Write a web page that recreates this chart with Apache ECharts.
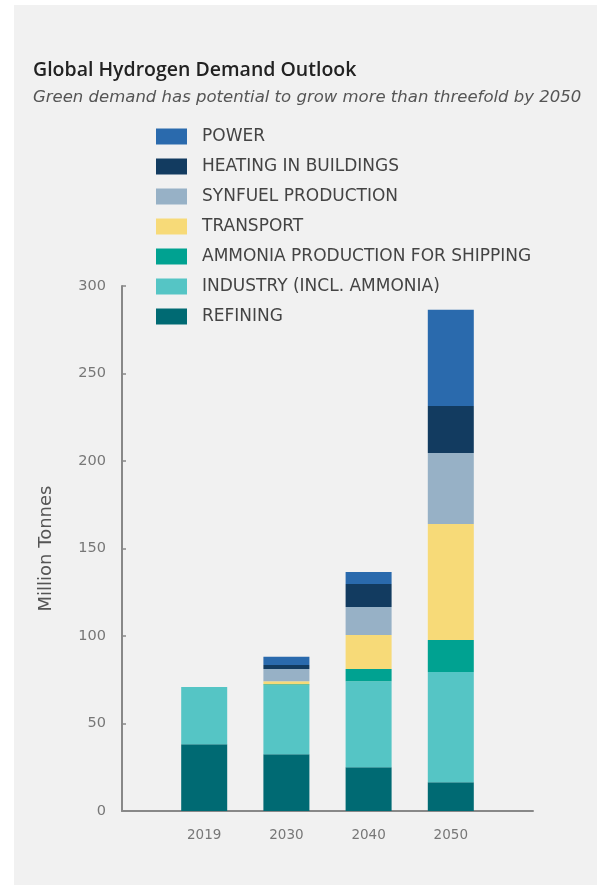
<!DOCTYPE html>
<html>
<head>
<meta charset="utf-8">
<script src="https://cdn.jsdelivr.net/npm/echarts@6/dist/echarts.min.js"></script>
<style>
  html,body{margin:0;padding:0;background:#fff;}
  #main{width:601px;height:890px;}
</style>
</head>
<body>
<div id="main"></div>
<script>
// categories (blank ends leave the gaps either side of the bars)
let years=["","2019","2030","2040","2050",""]
// million tonnes
let refining=[null,38.2,32.4,25.0,16.4,null]
let industry=[null,32.6,39.5,49.2,63.0,null]
let ammoniaShipping=[null,0,0.6,6.9,18.3,null]
let transport=[null,0,1.7,19.5,66.3,null]
let synfuel=[null,0,6.9,16.0,40.6,null]
let heating=[null,0,2.3,13.1,26.9,null]
let power=[null,0,4.7,6.9,54.9,null]

let names=["REFINING","INDUSTRY (INCL. AMMONIA)","AMMONIA PRODUCTION FOR SHIPPING","TRANSPORT","SYNFUEL PRODUCTION","HEATING IN BUILDINGS","POWER"]
let values=[refining,industry,ammoniaShipping,transport,synfuel,heating,power]
let colors=["#006a73","#55c5c5","#00a291","#f7da78","#97b1c6","#123b60","#2a6aad"]

let chart=echarts.init(document.getElementById("main"))
let series=[]
for(let i=0;i<names.length;i++){
    series.push({
        name:names[i],
        type:"bar",
        stack:"total",
        barWidth:46,
        itemStyle:{color:colors[i]},
        data:values[i]
    })
}
chart.setOption({
    backgroundColor:"#fff",
    graphic:[{
        type:"rect",
        shape:{x:14,y:5,width:583,height:880},
        style:{fill:"#f1f1f1"},
        z:-10
    }],
    title:{
        text:"Global Hydrogen Demand Outlook",
        subtext:"Green demand has potential to grow more than threefold by 2050",
        left:28,
        top:55,
        itemGap:9,
        textStyle:{fontFamily:"Open Sans",fontSize:19.5,fontWeight:600,color:"#222"},
        subtextStyle:{fontFamily:"DejaVu Sans",fontSize:16.5,fontStyle:"italic",color:"#555"}
    },
    legend:{
        orient:"vertical",
        left:151,
        top:123,
        itemWidth:31,
        itemHeight:16,
        itemGap:13,
        icon:"rect",
        data:names.slice().reverse(),
        textStyle:{fontFamily:"DejaVu Sans",fontSize:17,color:"#444",padding:[0,0,0,10]}
    },
    grid:{left:122,right:68,top:286,bottom:79},
    xAxis:{
        type:"category",
        data:years,
        boundaryGap:false,
        axisLine:{lineStyle:{color:"#888",width:2}},
        axisTick:{show:false},
        axisLabel:{fontFamily:"DejaVu Sans",fontSize:13.5,color:"#777",margin:17}
    },
    yAxis:{
        type:"value",
        min:0,
        max:300,
        interval:50,
        name:"Million Tonnes",
        nameLocation:"middle",
        nameGap:67,
        nameTextStyle:{fontFamily:"DejaVu Sans",fontSize:18,color:"#555"},
        splitLine:{show:false},
        axisLine:{show:true,lineStyle:{color:"#888",width:2}},
        axisTick:{show:true,inside:true,length:4,lineStyle:{color:"#888",width:1.5}},
        axisLabel:{fontFamily:"DejaVu Sans",fontSize:14.5,color:"#777",margin:16}
    },
    series:series
})
</script>
</body>
</html>
